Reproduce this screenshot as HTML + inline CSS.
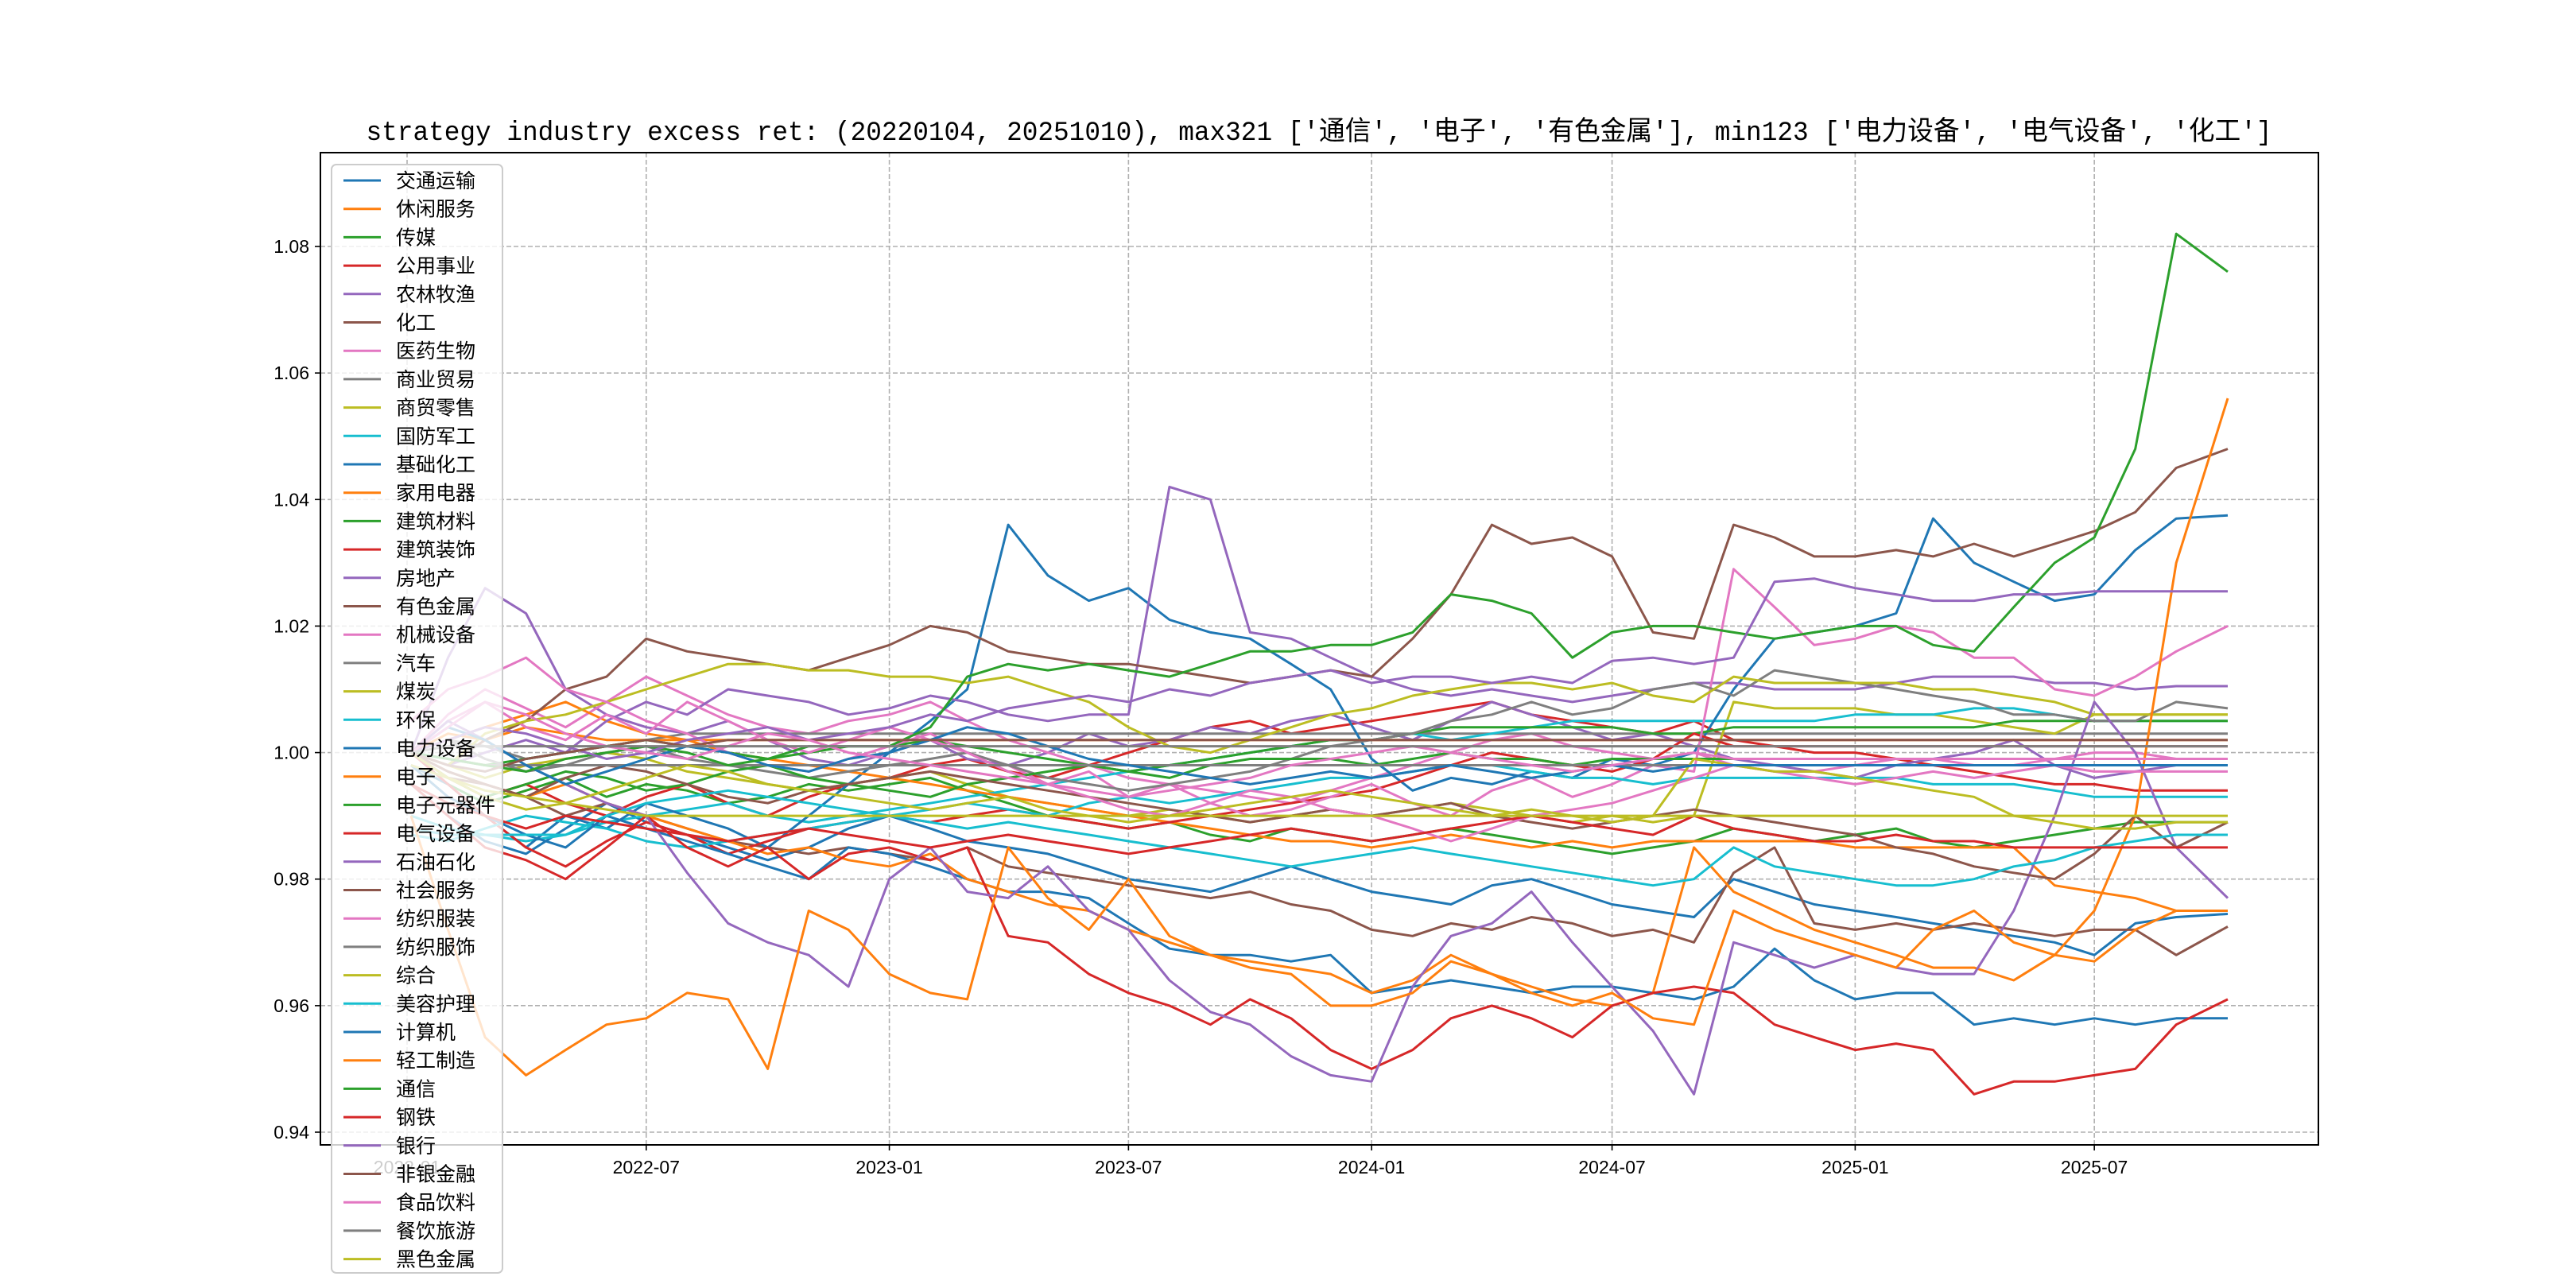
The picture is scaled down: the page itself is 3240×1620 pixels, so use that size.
<!DOCTYPE html>
<html><head><meta charset="utf-8"><style>
html,body{margin:0;padding:0;background:#fff;}
svg{display:block;}
text{font-family:"Liberation Sans","Noto Sans CJK SC",sans-serif;}
</style></head>
<body>
<svg id="chart" xmlns="http://www.w3.org/2000/svg" width="3240" height="1620" viewBox="0 0 3240 1620">
<rect x="0" y="0" width="3240" height="1620" fill="#fff"/>
<text x="1659" y="176" text-anchor="middle" font-size="34" textLength="2397" lengthAdjust="spacingAndGlyphs" style="font-family:'Liberation Mono','Noto Sans CJK SC',monospace">strategy industry excess ret: (20220104, 20251010), max321 ['通信', '电子', '有色金属'], min123 ['电力设备', '电气设备', '化工']</text>
<g id="grid"></g>
<g id="series"></g>
<rect x="403" y="192" width="2513" height="1248" fill="none" stroke="#000" stroke-width="2"/>
<g id="axes"></g>
<g id="legend"></g>
</svg>
<script>
const yTicks = [0.94,0.96,0.98,1.00,1.02,1.04,1.06,1.08];
const yTickLabels = ["0.94","0.96","0.98","1.00","1.02","1.04","1.06","1.08"];
const xTicks = ["2022-01-01","2022-07-01","2023-01-01","2023-07-01","2024-01-01","2024-07-01","2025-01-01","2025-07-01"];
const xTickLabels = ["2022-01","2022-07","2023-01","2023-07","2024-01","2024-07","2025-01","2025-07"];
const startDate = "2022-01-04";
const endDate = "2025-10-10";
const names = ["交通运输","休闲服务","传媒","公用事业","农林牧渔","化工","医药生物","商业贸易","商贸零售","国防军工","基础化工","家用电器","建筑材料","建筑装饰","房地产","有色金属","机械设备","汽车","煤炭","环保","电力设备","电子","电子元器件","电气设备","石油石化","社会服务","纺织服装","纺织服饰","综合","美容护理","计算机","轻工制造","通信","钢铁","银行","非银金融","食品饮料","餐饮旅游","黑色金属"];
const colors = ["#1f77b4","#ff7f0e","#2ca02c","#d62728","#9467bd","#8c564b","#e377c2","#7f7f7f","#bcbd22","#17becf"];
const s00 = [0.995,0.990,0.986,0.984,0.988,0.992,0.989,0.987,0.985,0.983,0.985,0.988, 0.990,0.988,0.986,0.985,0.984,0.982,0.980,0.979,0.978,0.980,0.982,0.980, 0.978,0.977,0.976,0.979,0.980,0.978,0.976,0.975,0.974,0.980,0.978,0.976, 0.975,0.974,0.973,0.972,0.971,0.970,0.968,0.973,0.974,0.9745];
const s01 = [1.000,1.003,1.002,1.004,1.003,1.002,1.002,1.002,1.002,1.002,1.002,1.002, 1.002,1.002,1.002,1.002,1.002,1.002,1.002,1.002,1.002,1.002,1.002,1.002, 1.002,1.002,1.002,1.002,1.002,1.002,1.002,1.002,1.002,1.002,1.002,1.002, 1.002,1.002,1.002,1.002,1.002,1.002,1.002,1.002,1.002,1.002];
const s02 = [0.998,0.995,0.992,0.994,0.996,0.993,0.995,0.994,0.992,0.993,0.995,0.994, 0.995,0.996,0.994,0.992,0.990,0.989,0.988,0.989,0.987,0.986,0.988,0.987, 0.986,0.987,0.988,0.987,0.986,0.985,0.984,0.985,0.986,0.988,0.987,0.986, 0.987,0.988,0.986,0.985,0.986,0.987,0.988,0.989,0.989,0.989];
const s03 = [1.000,0.996,0.993,0.995,0.992,0.990,0.993,0.995,0.992,0.990,0.993,0.995, 0.996,0.998,0.999,0.997,0.996,0.998,1.000,1.002,1.004,1.005,1.003,1.004, 1.005,1.006,1.007,1.008,1.006,1.005,1.004,1.003,1.005,1.002,1.001,1.000, 1.000,0.999,0.998,0.997,0.996,0.995,0.995,0.994,0.994,0.994];
const s04 = [1.000,1.015,1.026,1.022,1.010,1.006,1.004,1.003,1.005,1.002,0.999,0.998, 1.000,1.002,0.999,0.998,1.000,1.003,1.001,1.002,1.004,1.003,1.005,1.006, 1.004,1.002,1.005,1.008,1.006,1.004,1.002,1.003,1.001,0.999,0.998,0.997, 0.996,0.998,0.999,1.000,1.002,0.998,0.996,0.997,0.998,0.998];
const s05 = [0.998,0.996,0.995,0.993,0.990,0.992,0.990,0.988,0.986,0.985,0.984,0.985, 0.984,0.983,0.985,0.982,0.981,0.980,0.979,0.978,0.977,0.978,0.976,0.975, 0.972,0.971,0.973,0.972,0.974,0.973,0.971,0.972,0.970,0.981,0.985,0.973, 0.972,0.973,0.972,0.973,0.972,0.971,0.972,0.972,0.968,0.9725];
const s06 = [1.000,1.006,1.010,1.007,1.004,1.008,1.012,1.009,1.006,1.004,1.003,1.005, 1.006,1.008,1.005,1.002,1.000,0.998,0.996,0.995,0.994,0.993,0.992,0.994, 0.996,0.998,1.000,1.002,1.003,1.001,1.000,0.999,1.000,0.998,0.997,0.997, 0.998,0.999,0.999,0.998,0.998,0.999,1.000,1.000,0.999,0.999];
const s07 = [1.000,1.002,1.001,0.999,1.000,1.001,1.002,1.003,1.003,1.003,1.003,1.003, 1.003,1.003,1.003,1.003,1.003,1.003,1.003,1.003,1.003,1.003,1.003,1.003, 1.003,1.003,1.003,1.003,1.003,1.003,1.003,1.003,1.003,1.003,1.003,1.003, 1.003,1.003,1.003,1.003,1.003,1.003,1.003,1.003,1.003,1.003];
const s08 = [1.000,0.998,0.996,0.998,0.999,1.000,0.999,0.997,0.996,0.995,0.994,0.995, 0.996,0.997,0.995,0.993,0.992,0.991,0.990,0.991,0.990,0.989,0.990,0.991, 0.990,0.991,0.992,0.991,0.990,0.989,0.990,0.989,0.990,1.008,1.007,1.007, 1.007,1.006,1.006,1.005,1.004,1.003,1.006,1.006,1.006,1.006];
const s09 = [0.990,0.988,0.987,0.986,0.987,0.989,0.990,0.991,0.992,0.990,0.989,0.990, 0.991,0.992,0.993,0.994,0.995,0.996,0.997,0.998,0.999,1.000,1.001,1.002, 1.002,1.003,1.002,1.003,1.004,1.005,1.005,1.005,1.005,1.005,1.005,1.005, 1.006,1.006,1.006,1.007,1.007,1.006,1.005,1.005,1.005,1.005];
const s10 = [0.998,0.995,0.990,0.985,0.990,0.988,0.992,0.990,0.988,0.985,0.990,0.995, 1.000,1.005,1.010,1.036,1.028,1.024,1.026,1.021,1.019,1.018,1.014,1.010, 0.999,0.994,0.996,0.995,0.997,0.996,0.999,0.998,1.000,1.010,1.018,1.019, 1.020,1.022,1.037,1.030,1.027,1.024,1.025,1.032,1.037,1.0375];
const s11 = [1.000,1.002,1.004,1.006,1.008,1.005,1.003,1.002,1.000,0.999,0.998,0.997, 0.996,0.995,0.994,0.993,0.992,0.991,0.990,0.989,0.988,0.987,0.986,0.986, 0.985,0.986,0.987,0.986,0.985,0.986,0.985,0.986,0.986,0.986,0.986,0.986, 0.985,0.985,0.985,0.985,0.985,0.979,0.978,0.977,0.975,0.975];
const s12 = [1.000,0.999,0.998,0.999,1.000,1.001,1.002,1.001,1.000,0.999,1.000,1.001, 1.001,1.002,1.001,1.000,0.999,0.998,0.997,0.998,0.999,1.000,1.001,1.002, 1.002,1.003,1.004,1.004,1.004,1.004,1.004,1.003,1.003,1.004,1.004,1.004, 1.004,1.004,1.004,1.004,1.005,1.005,1.005,1.005,1.005,1.005];
const s13 = [1.000,0.995,0.990,0.985,0.982,0.986,0.989,0.987,0.984,0.986,0.988,0.989, 0.990,0.989,0.990,0.991,0.990,0.989,0.988,0.989,0.990,0.991,0.992,0.993, 0.994,0.996,0.998,1.000,0.999,0.998,0.997,0.999,1.003,1.001,1.001,1.001, 1.001,1.001,1.001,1.001,1.001,1.001,1.001,1.001,1.001,1.001];
const s14 = [1.000,0.998,1.000,1.002,1.000,1.005,1.008,1.006,1.010,1.009,1.008,1.006, 1.007,1.009,1.008,1.006,1.005,1.006,1.006,1.042,1.040,1.019,1.018,1.015, 1.012,1.010,1.009,1.010,1.009,1.008,1.009,1.010,1.011,1.011,1.010,1.010, 1.010,1.011,1.012,1.012,1.012,1.011,1.011,1.010,1.0105,1.0105];
const s15 = [1.000,0.998,1.002,1.005,1.010,1.012,1.018,1.016,1.015,1.014,1.013,1.015, 1.017,1.020,1.019,1.016,1.015,1.014,1.014,1.013,1.012,1.011,1.012,1.013, 1.012,1.018,1.025,1.036,1.033,1.034,1.031,1.019,1.018,1.036,1.034,1.031, 1.031,1.032,1.031,1.033,1.031,1.033,1.035,1.038,1.045,1.048];
const s16 = [1.000,1.005,1.008,1.004,1.002,1.006,1.003,1.008,1.005,1.002,1.000,1.002, 1.004,1.002,1.000,0.998,0.995,0.997,0.993,0.995,0.992,0.990,0.991,0.993, 0.995,0.992,0.990,0.994,0.996,0.993,0.995,0.998,0.997,1.029,1.023,1.017, 1.018,1.020,1.019,1.015,1.015,1.010,1.009,1.012,1.016,1.020];
const s17 = [1.000,1.002,0.999,0.997,0.998,1.000,1.001,0.999,0.998,0.997,0.996,0.997, 0.998,0.999,1.000,0.998,0.996,0.995,0.994,0.995,0.996,0.997,0.999,1.001, 1.002,1.003,1.005,1.006,1.008,1.006,1.007,1.010,1.011,1.009,1.013,1.012, 1.011,1.010,1.009,1.008,1.006,1.006,1.005,1.005,1.008,1.007];
const s18 = [1.000,0.998,1.003,1.005,1.006,1.008,1.010,1.012,1.014,1.014,1.013,1.013, 1.012,1.012,1.011,1.012,1.010,1.008,1.004,1.001,1.000,1.002,1.004,1.006, 1.007,1.009,1.010,1.011,1.011,1.010,1.011,1.009,1.008,1.012,1.011,1.011, 1.011,1.011,1.010,1.010,1.009,1.008,1.006,1.006,1.006,1.006];
const s19 = [0.987,0.986,0.988,0.990,0.989,0.988,0.986,0.985,0.986,0.987,0.988,0.989, 0.990,0.991,0.992,0.991,0.990,0.992,0.993,0.992,0.993,0.994,0.995,0.996, 0.996,0.997,0.998,0.998,0.997,0.996,0.996,0.995,0.996,0.996,0.996,0.996, 0.996,0.996,0.995,0.995,0.995,0.994,0.993,0.993,0.993,0.993];
const s20 = [0.998,0.993,0.990,0.987,0.985,0.990,0.988,0.986,0.984,0.982,0.980,0.985, 0.984,0.982,0.980,0.978,0.978,0.977,0.973,0.969,0.968,0.968,0.967,0.968, 0.962,0.963,0.964,0.963,0.962,0.963,0.963,0.962,0.961,0.963,0.969,0.964, 0.961,0.962,0.962,0.957,0.958,0.957,0.958,0.957,0.958,0.958];
const s21 = [1.000,0.997,0.995,0.993,0.995,0.992,0.990,0.988,0.986,0.984,0.985,0.983, 0.982,0.984,0.980,0.978,0.976,0.975,0.972,0.970,0.968,0.967,0.966,0.965, 0.962,0.964,0.968,0.965,0.963,0.961,0.960,0.962,0.985,0.978,0.975,0.972, 0.970,0.968,0.966,0.966,0.964,0.968,0.975,0.990,1.030,1.056];
const s22 = [1.000,0.996,0.993,0.995,0.997,0.996,0.994,0.995,0.997,0.998,0.996,0.995, 0.994,0.993,0.995,0.996,0.997,0.998,0.997,0.996,0.998,0.999,0.999,0.999, 0.998,0.999,1.000,0.999,0.999,0.998,0.999,0.999,0.999,0.999,0.999,0.999, 0.999,0.999,0.999,0.999,0.999,0.999,0.999,0.999,0.999,0.999];
const s23 = [0.995,0.990,0.985,0.983,0.980,0.985,0.990,0.985,0.982,0.985,0.980,0.984, 0.985,0.983,0.985,0.971,0.970,0.965,0.962,0.960,0.957,0.961,0.958,0.953, 0.950,0.953,0.958,0.960,0.958,0.955,0.960,0.962,0.963,0.962,0.957,0.955, 0.953,0.954,0.953,0.946,0.948,0.948,0.949,0.950,0.957,0.961];
const s24 = [1.000,1.005,1.002,0.998,0.995,0.992,0.990,0.981,0.973,0.970,0.968,0.963, 0.980,0.985,0.978,0.977,0.982,0.975,0.972,0.964,0.959,0.957,0.952,0.949, 0.948,0.963,0.971,0.973,0.978,0.970,0.963,0.956,0.946,0.970,0.968,0.966, 0.968,0.966,0.965,0.965,0.975,0.990,1.008,1.000,0.985,0.977];
const s25 = [1.000,0.997,0.995,0.993,0.996,0.998,0.997,0.995,0.993,0.992,0.994,0.995, 0.996,0.997,0.996,0.995,0.994,0.993,0.992,0.991,0.990,0.989,0.990,0.991, 0.990,0.991,0.992,0.990,0.989,0.988,0.989,0.990,0.991,0.990,0.989,0.988, 0.987,0.985,0.984,0.982,0.981,0.980,0.984,0.990,0.985,0.989];
const s26 = [1.005,1.010,1.012,1.015,1.010,1.008,1.005,1.003,1.000,0.998,0.997,0.999, 1.001,1.003,1.000,0.997,0.995,0.993,0.991,0.990,0.992,0.994,0.993,0.991, 0.990,0.988,0.986,0.988,0.990,0.991,0.992,0.994,0.996,0.998,0.997,0.996, 0.995,0.996,0.997,0.996,0.997,0.998,0.997,0.997,0.997,0.997];
const s27 = [1.000,0.999,0.998,0.998,0.998,0.998,0.998,0.998,0.998,0.998,0.998,0.998, 0.998,0.998,0.998,0.998,0.998,0.998,0.998,0.998,0.998,0.998,0.998,0.998, 0.998,0.998,0.998,0.998,0.998,0.998,0.998,0.998,0.998,0.998,0.998,0.998, 0.998,0.998,0.998,0.998,0.998,0.998,0.998,0.998,0.998,0.998];
const s28 = [1.000,0.996,0.993,0.991,0.992,0.994,0.996,0.998,0.997,0.995,0.994,0.993, 0.992,0.991,0.992,0.993,0.991,0.990,0.989,0.990,0.991,0.992,0.993,0.994, 0.993,0.992,0.991,0.990,0.991,0.990,0.989,0.990,0.999,0.998,0.997,0.997, 0.996,0.995,0.994,0.993,0.990,0.989,0.988,0.988,0.989,0.989];
const s29 = [0.988,0.987,0.987,0.987,0.987,0.990,0.992,0.993,0.994,0.993,0.992,0.991, 0.990,0.989,0.988,0.989,0.988,0.987,0.986,0.985,0.984,0.983,0.982,0.983, 0.984,0.985,0.984,0.983,0.982,0.981,0.980,0.979,0.980,0.985,0.982,0.981, 0.980,0.979,0.979,0.980,0.982,0.983,0.985,0.986,0.987,0.987];
const s30 = [1.000,1.004,1.002,0.998,0.995,0.997,0.999,1.001,1.000,0.998,0.997,0.999, 1.000,1.002,1.004,1.003,1.001,0.999,0.998,0.997,0.996,0.995,0.996,0.997, 0.996,0.997,0.998,0.997,0.996,0.997,0.998,0.997,0.998,0.998,0.998,0.998, 0.998,0.998,0.998,0.998,0.998,0.998,0.998,0.998,0.998,0.998];
const s31 = [0.990,0.972,0.955,0.949,0.953,0.957,0.958,0.962,0.961,0.950,0.975,0.972, 0.965,0.962,0.961,0.985,0.977,0.972,0.980,0.971,0.968,0.966,0.965,0.960, 0.960,0.962,0.967,0.965,0.962,0.960,0.962,0.958,0.957,0.975,0.972,0.970, 0.968,0.966,0.972,0.975,0.970,0.968,0.967,0.972,0.975,0.975];
const s32 = [1.000,0.999,0.998,0.997,0.999,1.000,1.001,1.000,0.998,0.999,1.001,1.001, 1.001,1.004,1.012,1.014,1.013,1.014,1.013,1.012,1.014,1.016,1.016,1.017, 1.017,1.019,1.025,1.024,1.022,1.015,1.019,1.020,1.020,1.019,1.018,1.019, 1.020,1.020,1.017,1.016,1.023,1.030,1.034,1.048,1.082,1.076];
const s33 = [0.995,0.992,0.990,0.988,0.990,0.989,0.988,0.987,0.986,0.987,0.988,0.987, 0.986,0.985,0.986,0.987,0.986,0.985,0.984,0.985,0.986,0.987,0.988,0.987, 0.986,0.987,0.988,0.989,0.990,0.989,0.988,0.987,0.990,0.988,0.987,0.986, 0.986,0.987,0.986,0.986,0.985,0.985,0.985,0.985,0.985,0.985];
const s34 = [1.000,1.002,1.004,1.003,1.001,0.999,1.000,1.002,1.003,1.004,1.002,1.003, 1.004,1.006,1.005,1.007,1.008,1.009,1.008,1.010,1.009,1.011,1.012,1.013, 1.011,1.012,1.012,1.011,1.012,1.011,1.0145,1.015,1.014,1.015,1.027,1.0275, 1.026,1.025,1.024,1.024,1.025,1.025,1.0255,1.0255,1.0255,1.0255];
const s35 = [1.000,0.998,0.997,0.999,1.000,1.001,1.002,1.001,1.002,1.002,1.002,1.002, 1.002,1.002,1.002,1.002,1.002,1.002,1.002,1.002,1.002,1.002,1.002,1.002, 1.002,1.002,1.002,1.002,1.002,1.002,1.002,1.002,1.002,1.002,1.002,1.002, 1.002,1.002,1.002,1.002,1.002,1.002,1.002,1.002,1.002,1.002];
const s36 = [1.000,1.004,1.008,1.006,1.003,1.001,1.000,0.999,1.001,1.003,1.002,1.000, 0.999,0.998,0.997,0.996,0.995,0.994,0.993,0.994,0.995,0.996,0.998,0.999, 1.000,1.001,1.000,0.999,0.998,0.997,0.998,0.999,1.000,0.999,0.999,0.999, 0.999,0.999,0.999,0.999,0.999,0.999,0.999,0.999,0.999,0.999];
const s37 = [1.000,1.001,1.001,1.001,1.001,1.001,1.001,1.001,1.001,1.001,1.001,1.001, 1.001,1.001,1.001,1.001,1.001,1.001,1.001,1.001,1.001,1.001,1.001,1.001, 1.001,1.001,1.001,1.001,1.001,1.001,1.001,1.001,1.001,1.001,1.001,1.001, 1.001,1.001,1.001,1.001,1.001,1.001,1.001,1.001,1.001,1.001];
const s38 = [0.998,0.996,0.994,0.993,0.992,0.991,0.990,0.990,0.990,0.990,0.990,0.990, 0.990,0.990,0.990,0.990,0.990,0.990,0.990,0.990,0.990,0.990,0.990,0.990, 0.990,0.990,0.990,0.990,0.990,0.990,0.990,0.990,0.990,0.990,0.990,0.990, 0.990,0.990,0.990,0.990,0.990,0.990,0.990,0.990,0.990,0.990];
const seriesValues = [s00,s01,s02,s03,s04,s05,s06,s07,s08,s09,s10,s11,s12,s13,s14,s15,s16,s17,s18,s19,s20,s21,s22,s23,s24,s25,s26,s27,s28,s29,s30,s31,s32,s33,s34,s35,s36,s37,s38];

const NS = "http://www.w3.org/2000/svg";
const PL = 403, PR = 2916, PT = 192, PB = 1440;
const t0 = Date.parse(startDate), t1 = Date.parse(endDate);
const DL = 517, DR = 2802;
function xScale(d){ return DL + (Date.parse(d) - t0) / (t1 - t0) * (DR - DL); }
function yScale(v){ return 310 + (1.08 - v) / 0.14 * (1424 - 310); }
function pointDate(i, n){
  if (i === 0) return startDate;
  if (i === n - 1) return endDate;
  const y = 2022 + Math.floor(i / 12), m = i % 12 + 1;
  return y + "-" + String(m).padStart(2, "0") + "-01";
}
function mk(tag, attrs, parent){
  const e = document.createElementNS(NS, tag);
  for (const k in attrs) e.setAttribute(k, attrs[k]);
  parent.appendChild(e);
  return e;
}
const grid = document.getElementById("grid");
const axes = document.getElementById("axes");
yTicks.forEach((v, i) => {
  const y = yScale(v);
  const g = mk("line", {x1: PL, x2: PR, y1: y, y2: y, stroke: "#b0b0b0", "stroke-width": 1.6, "stroke-dasharray": "6,3"}, grid);
  
  
  const t = mk("line", {x1: PL - 7, x2: PL, y1: y, y2: y, stroke: "#000", "stroke-width": 1.6}, axes);
  
  
  const l = mk("text", {x: PL - 14, y: y + 8, "text-anchor": "end", "font-size": 23}, axes);
  l.textContent = yTickLabels[i];
  
  
});
xTicks.forEach((d, i) => {
  const x = xScale(d);
  const g = mk("line", {x1: x, x2: x, y1: PT, y2: PB, stroke: "#b0b0b0", "stroke-width": 1.6, "stroke-dasharray": "6,3"}, grid);
  
  
  const t = mk("line", {x1: x, x2: x, y1: PB, y2: PB + 7, stroke: "#000", "stroke-width": 1.6}, axes);
  
  
  const l = mk("text", {x: x, y: PB + 36, "text-anchor": "middle", "font-size": 23}, axes);
  l.textContent = xTickLabels[i];
  
  
});
const sg = document.getElementById("series");
seriesValues.forEach((vals, si) => {
  const pts = vals.map((v, i) => xScale(pointDate(i, vals.length)).toFixed(1) + "," + yScale(v).toFixed(1)).join(" ");
  const p = mk("polyline", {points: pts, fill: "none", stroke: colors[si % 10], "stroke-width": 3, "stroke-linejoin": "round"}, sg);
  
  
});
const lg = document.getElementById("legend");
const box = mk("rect", {x: 417, y: 207, width: 215, height: 1394, rx: 6, fill: "#fff", "fill-opacity": 0.8, stroke: "#cccccc", "stroke-width": 2}, lg);


names.forEach((n, i) => {
  const y = 227 + i * 35.7;
  const ln = mk("line", {x1: 432, x2: 479, y1: y, y2: y, stroke: colors[i % 10], "stroke-width": 3}, lg);
  
  
  const tx = mk("text", {x: 498, y: y + 9, "font-size": 25}, lg);
  tx.textContent = n;
  
  
});
</script>
</body></html>
